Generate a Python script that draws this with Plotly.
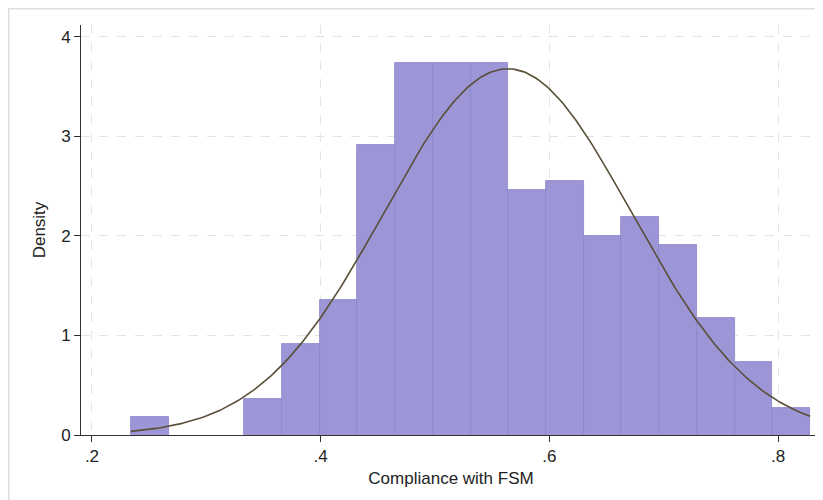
import numpy as np
import plotly.graph_objects as go

# Histogram bins (left edge of first bin, bin width) and densities
bin_start = 0.2341
bin_width = 0.03299
densities = [0.18, 0.0, 0.0, 0.36, 0.91, 1.36, 2.91, 3.74, 3.74, 3.74,
             2.46, 2.55, 2.00, 2.19, 1.91, 1.18, 0.73, 0.27]

# Fitted normal density parameters
norm_mean = 0.5635
norm_sd = 0.1084

x_tickvals = [0.2, 0.4, 0.6, 0.8]
x_ticktext = [".2", ".4", ".6", ".8"]
y_tickvals = [0, 1, 2, 3, 4]
y_ticktext = ["0", "1", "2", "3", "4"]

n_bins = len(densities)
centers = [bin_start + bin_width * (i + 0.5) for i in range(n_bins)]
bar_x = [c for c, d in zip(centers, densities) if d > 0]
bar_y = [d for d in densities if d > 0]
x_lo = bin_start
x_hi = bin_start + bin_width * n_bins
xs = np.linspace(x_lo, x_hi, 300)
ys = np.exp(-0.5 * ((xs - norm_mean) / norm_sd) ** 2) / (norm_sd * np.sqrt(2 * np.pi))

fig = go.Figure()
fig.add_trace(go.Bar(
    x=bar_x, y=bar_y, width=bin_width,
    marker=dict(color="#9c96d7", line=dict(color="#8a84c9", width=0.8)),
    showlegend=False, hoverinfo="skip"))
fig.add_trace(go.Scatter(
    x=xs, y=ys, mode="lines",
    line=dict(color="#5a4f38", width=1.6),
    showlegend=False, hoverinfo="skip"))

font_family = "Liberation Sans, Arial, sans-serif"
# page body has an 8px margin, so the figure is sized to fit the window
W, H = 815, 492
L, R, T, B = 73, 2, 17, 65
pw = W - L - R
ph = H - T - B

fig.update_layout(
    width=W, height=H,
    margin=dict(l=L, r=R, t=T, b=B, pad=0),
    paper_bgcolor="white", plot_bgcolor="white",
    bargap=0,
    font=dict(family=font_family, size=17, color="#222"),
    xaxis=dict(
        range=[0.1904, 0.8375], automargin=False,
        tickvals=x_tickvals, ticktext=x_ticktext,
        ticks="outside", ticklen=6, tickcolor="#333", tickwidth=1,
        showline=True, linecolor="#333", linewidth=1,
        showgrid=True, gridcolor="#e4e4e4", griddash="dash", gridwidth=1,
        zeroline=False,
        title=dict(text="Compliance with FSM", font=dict(size=17), standoff=6),
        tickfont=dict(size=17),
    ),
    yaxis=dict(
        range=[0, 4.12], automargin=False,
        tickvals=y_tickvals, ticktext=y_ticktext,
        ticks="outside", ticklen=6, tickcolor="#333", tickwidth=1,
        showline=True, linecolor="#333", linewidth=1,
        showgrid=True, gridcolor="#e4e4e4", griddash="dash", gridwidth=1,
        zeroline=False,
        title=dict(text="Density", font=dict(size=17), standoff=11),
        tickfont=dict(size=17),
    ),
    shapes=[dict(
        type="rect", xref="paper", yref="paper",
        x0=(0.75 - L) / pw, x1=1.2, y0=-0.3, y1=(H - B - 0.75) / ph,
        line=dict(color="#dedede", width=1.5), fillcolor="rgba(0,0,0,0)",
        layer="below")],
)

fig.write_html("out.html")
